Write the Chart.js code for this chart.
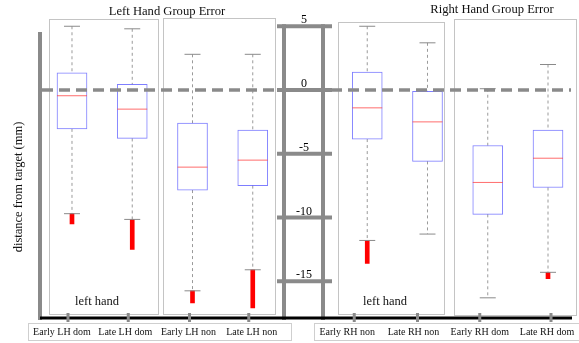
<!DOCTYPE html>
<html>
<head>
<meta charset="utf-8">
<script src="https://cdn.jsdelivr.net/npm/chart.js@4"></script>
<style>
  html, body { margin: 0; padding: 0; background: #fff; }
  #wrap { width: 579px; height: 343px; }
</style>
</head>
<body>
<div id="wrap"><canvas id="box_chart" width="579" height="343"></canvas></div>
<script>
// groups of the figure
const categories = ['Early LH dom', 'Late LH dom', 'Early LH non', 'Late LH non',
                    'Early RH non', 'Late RH non', 'Early RH dom', 'Late RH dom'];
const whiskerHigh = [5.0, 4.8, 2.8, 2.8, 5.0, 3.7, 0.1, 2.0];
const q3          = [1.35, 0.45, -2.6, -3.15, 1.4, -0.1, -4.35, -3.15];
const median      = [-0.45, -1.5, -6.05, -5.5, -1.4, -2.5, -7.25, -5.35];
const q1          = [-3.05, -3.8, -7.85, -7.5, -3.85, -5.6, -9.75, -7.65];
const whiskerLow  = [-9.7, -10.15, -15.75, -14.1, -11.8, -11.3, -16.3, -14.3];
const outlierMin  = [-10.5, -12.5, -16.7, -17.1, -13.6, null, null, -14.8];
const yTicks = [5, 0, -5, -10, -15];

// gap between left and right hand holds the axis ladder
const slot = i => (i < 4 ? i : i + 0.9);

const boxData = categories.map((c, i) => ({ x: slot(i), y: [q1[i], q3[i]] }));
const outData = categories.map((c, i) => ({ x: slot(i), y: outlierMin[i] === null ? null : [outlierMin[i], whiskerLow[i]] }));
const medData = categories.map((c, i) => ({ x: slot(i), y: median[i] }));
const capData = [];
const whiskData = [];
categories.forEach((c, i) => {
    capData.push({ x: slot(i), y: whiskerHigh[i] }, { x: slot(i), y: whiskerLow[i] });
    whiskData.push({ x: slot(i), y: whiskerHigh[i] }, { x: slot(i), y: q3[i] }, { x: slot(i), y: null });
    whiskData.push({ x: slot(i), y: q1[i] }, { x: slot(i), y: whiskerLow[i] }, { x: slot(i), y: null });
});

const SERIF = '"Liberation Serif", "DejaVu Serif", serif';
const GREY = '#8a8a8a';
// the pasted label strips are a little off the boxes
const labelShift = [-10, -7, -4, -1, -20, -14, -8, -1];
const tickShift = [-4, -4, -3, -4, -13, -10, -8, 3];

const decor = {
    id: 'decor',
    beforeDatasetsDraw(chart) {
        const ctx = chart.ctx;
        const x = chart.scales.x, y = chart.scales.y;
        ctx.save();
        // panels
        ctx.strokeStyle = '#c4c4c4';
        ctx.lineWidth = 1;
        [[-0.382, 1.427, 5.55], [1.51, 3.37, 5.65], [4.415, 6.174, 5.3], [6.34, 8.365, 5.6]].forEach(p => {
            const l = x.getPixelForValue(p[0]), r = x.getPixelForValue(p[1]);
            const t = y.getPixelForValue(p[2]), b = y.getPixelForValue(-17.6);
            ctx.strokeRect(Math.round(l) + 0.5, Math.round(t) + 0.5, Math.round(r - l), Math.round(b - t));
        });
        ctx.restore();
    },
    afterDatasetsDraw(chart) {
        const ctx = chart.ctx;
        const x = chart.scales.x, y = chart.scales.y;
        const y0 = y.getPixelForValue(0);
        ctx.save();
        // zero reference line
        ctx.strokeStyle = GREY;
        ctx.lineWidth = 3.5;
        ctx.setLineDash([11, 6]);
        ctx.beginPath();
        ctx.moveTo(42, y0);
        ctx.lineTo(571, y0);
        ctx.stroke();
        ctx.setLineDash([]);

        // left axis
        ctx.lineWidth = 4;
        ctx.beginPath();
        ctx.moveTo(40, 32);
        ctx.lineTo(40, 320);
        ctx.stroke();

        // ladder axis in the middle
        const lx1 = 284, lx2 = 323;
        ctx.beginPath();
        ctx.moveTo(lx1, y.getPixelForValue(5) - 2); ctx.lineTo(lx1, 320);
        ctx.moveTo(lx2, y.getPixelForValue(5) - 2); ctx.lineTo(lx2, 320);
        ctx.stroke();
        ctx.fillStyle = '#000';
        ctx.font = '12px ' + SERIF;
        ctx.textAlign = 'center';
        ctx.textBaseline = 'alphabetic';
        yTicks.forEach(v => {
            const py = y.getPixelForValue(v);
            ctx.beginPath();
            ctx.moveTo(277, py); ctx.lineTo(332, py);
            ctx.stroke();
            ctx.fillText(String(v), 304, py - 3);
        });

        // bottom axis
        ctx.strokeStyle = '#000';
        ctx.lineWidth = 3;
        ctx.beginPath();
        ctx.moveTo(40, 318);
        ctx.lineTo(572, 318);
        ctx.stroke();
        ctx.strokeStyle = GREY;
        ctx.lineWidth = 3;
        categories.forEach((c, i) => {
            const px = x.getPixelForValue(slot(i)) + tickShift[i];
            ctx.beginPath();
            ctx.moveTo(px, 313); ctx.lineTo(px, 322);
            ctx.stroke();
        });

        // tick label boxes
        ctx.strokeStyle = '#cfcfcf';
        ctx.lineWidth = 1;
        ctx.strokeRect(28.5, 323.5, 263, 17);
        ctx.strokeRect(314.5, 323.5, 270, 17);
        ctx.fillStyle = '#111';
        ctx.font = '10px ' + SERIF;
        ctx.textBaseline = 'middle';
        categories.forEach((c, i) => {
            ctx.fillText(c, x.getPixelForValue(slot(i)) + labelShift[i], 332);
        });

        // titles and notes
        ctx.font = '12.6px ' + SERIF;
        ctx.fillText('Left Hand Group Error', 167, 12);
        ctx.fillText('Right Hand Group Error', 492, 10);
        ctx.font = '12.5px ' + SERIF;
        ctx.fillText('left hand', 97, 302);
        ctx.fillText('left hand', 385, 302);

        ctx.font = '12.5px ' + SERIF;
        ctx.translate(19, 187);
        ctx.rotate(-Math.PI / 2);
        ctx.fillText('distance from target (mm)', 0, 0);
        ctx.restore();
    }
};

function fnBoxChart() {
    const ctx = document.getElementById('box_chart').getContext('2d');
    new Chart(ctx, {
        type: 'bar',
        data: {
            datasets: [
                {
                    label: 'whiskers',
                    type: 'line',
                    data: whiskData,
                    borderColor: '#9a9a9a',
                    borderWidth: 1,
                    borderDash: [3, 3],
                    pointRadius: 0,
                    spanGaps: false,
                    order: 3
                },
                {
                    label: 'box',
                    data: boxData,
                    backgroundColor: 'rgba(255,255,255,1)',
                    borderColor: 'rgba(40,40,255,0.6)',
                    borderWidth: 1,
                    borderSkipped: false,
                    barThickness: 30,
                    grouped: false,
                    order: 2
                },
                {
                    label: 'outliers',
                    data: outData,
                    backgroundColor: '#ff0000',
                    borderWidth: 0,
                    barThickness: 4,
                    grouped: false,
                    order: 2
                },
                {
                    label: 'caps',
                    type: 'scatter',
                    data: capData,
                    pointStyle: 'line',
                    pointRadius: 8,
                    borderColor: '#8a8a8a',
                    borderWidth: 1,
                    order: 1
                },
                {
                    label: 'median',
                    type: 'scatter',
                    data: medData,
                    pointStyle: 'line',
                    pointRadius: 15,
                    borderColor: 'rgba(255,60,60,0.75)',
                    borderWidth: 1,
                    order: 0
                }
            ]
        },
        options: {
            responsive: false,
            animation: false,
            events: [],
            layout: { autoPadding: false, padding: { left: 40, right: 4, top: 13.5, bottom: 23.5 } },
            scales: {
                x: { type: 'linear', min: -0.531, max: 8.348, bounds: 'data', offset: false, display: false },
                y: { type: 'linear', min: -18, max: 6, bounds: 'data', display: false }
            },
            plugins: {
                legend: { display: false },
                tooltip: { enabled: false }
            }
        },
        plugins: [decor]
    });
}

fnBoxChart();
</script>
</body>
</html>
